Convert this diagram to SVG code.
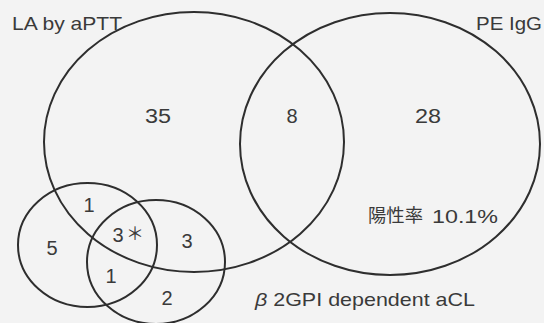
<svg xmlns="http://www.w3.org/2000/svg" width="544" height="323" viewBox="0 0 544 323">
  <style>
    .set { fill: none; stroke: #2e2e2e; stroke-width: 2; }
    .lbl { font-family: "Liberation Sans", Arial, sans-serif; font-size: 19px; fill: #3a3a3a; }
    .num { font-family: "Liberation Sans", Arial, sans-serif; font-size: 20px; fill: #3a3a3a; text-anchor: middle; }
    .cjk { font-family: "Liberation Sans", "Noto Sans CJK JP", sans-serif; font-size: 18px; fill: #3a3a3a; }
  </style>
  <rect x="0" y="0" width="544" height="323" fill="#f3f3f3"/>

  <g id="connectors"/>

  <g id="set-la">
    <ellipse class="set" cx="194" cy="142" rx="150" ry="130"/>
    <text class="lbl" x="12" y="30" textLength="110" lengthAdjust="spacingAndGlyphs">LA by aPTT</text>
  </g>

  <g id="set-pe">
    <ellipse class="set" cx="390" cy="144" rx="150" ry="131"/>
    <text class="lbl" x="476" y="30" textLength="66" lengthAdjust="spacingAndGlyphs">PE IgG</text>
  </g>

  <g id="set-left">
    <ellipse class="set" cx="87.5" cy="245" rx="69.5" ry="62"/>
  </g>

  <g id="set-b2gpi">
    <ellipse class="set" cx="156" cy="262" rx="69" ry="62"/>
    <text class="lbl" x="255" y="306" textLength="220" lengthAdjust="spacingAndGlyphs"><tspan font-style="italic">β</tspan> 2GPI dependent aCL</text>
  </g>

  <g id="counts">
    <text class="num" x="158" y="123" textLength="26" lengthAdjust="spacingAndGlyphs">35</text>
    <text class="num" x="292" y="123">8</text>
    <text class="num" x="428" y="123" textLength="26" lengthAdjust="spacingAndGlyphs">28</text>
    <text class="num" x="89" y="212">1</text>
    <text class="num" x="52" y="255">5</text>
    <text class="num" x="118" y="242">3</text>
    <text class="cjk" x="126" y="240" font-size="16">＊</text>
    <text class="num" x="187" y="248">3</text>
    <text class="num" x="111" y="283">1</text>
    <text class="num" x="167" y="305">2</text>
  </g>

  <g id="rate">
    <text class="cjk" x="368" y="222" textLength="55" lengthAdjust="spacingAndGlyphs">陽性率</text>
    <text class="lbl" x="432" y="223" textLength="66" lengthAdjust="spacingAndGlyphs">10.1%</text>
  </g>
</svg>
